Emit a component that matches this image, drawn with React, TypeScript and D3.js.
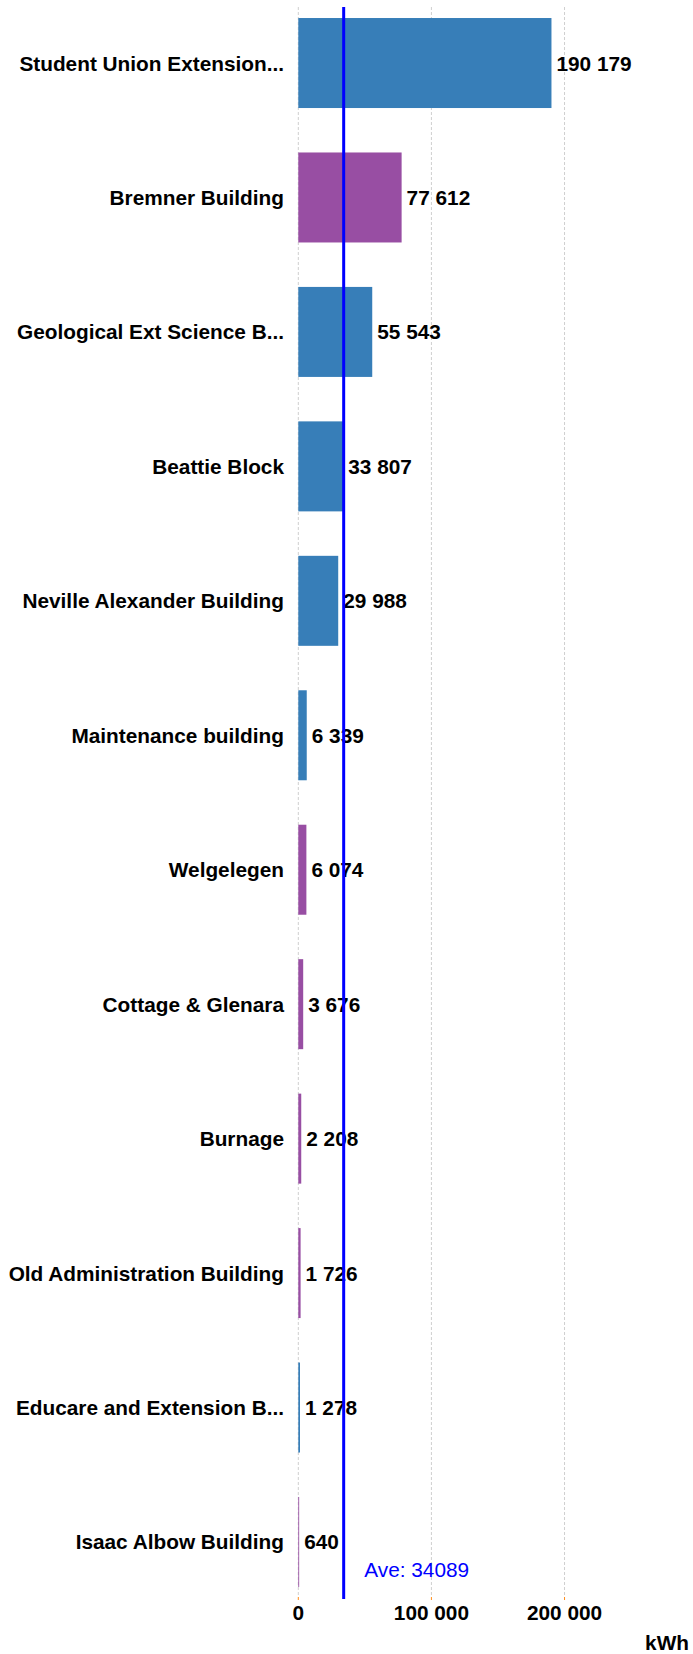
import React from "react";
import * as d3 from "d3";

const buildings = [
  "Student Union Extension...",
  "Bremner Building",
  "Geological Ext Science B...",
  "Beattie Block",
  "Neville Alexander Building",
  "Maintenance building",
  "Welgelegen",
  "Cottage & Glenara",
  "Burnage",
  "Old Administration Building",
  "Educare and Extension B...",
  "Isaac Albow Building",
];
const consumption = [190179, 77612, 55543, 33807, 29988, 6339, 6074, 3676, 2208, 1726, 1278, 640];
const groups = ["A", "B", "A", "A", "A", "A", "B", "B", "B", "B", "A", "B"];
const groupColors: Record<string, string> = { A: "#377eb8", B: "#984ea3" };
const tickValues = [0, 100000, 200000];
const average = 34089;
const unitLabel = "kWh";

const W = 693;
const H = 1654;
const plotTop = 7;
const plotBottom = 1598;
const x0 = 298.3;

const locale = d3.formatLocale({ decimal: ".", thousands: " ", grouping: [3], currency: ["", ""] });
const fmt = locale.format(",d");

export default function App() {
  const x = d3.scaleLinear().domain([0, 250000]).range([x0, x0 + 332.8]);
  const y = d3
    .scaleBand<string>()
    .domain(buildings)
    .range([plotTop, plotBottom])
    .paddingInner(0.3306)
    .paddingOuter(0.082);
  const bw = y.bandwidth();
  const font = "'Liberation Sans', Arial, Helvetica, sans-serif";
  const fs = 20.8;

  return (
    <svg
      width={W}
      height={H}
      style={{ position: "absolute", left: 0, top: 0, background: "#fff" }}
      fontFamily={font}
    >
      {tickValues.map((t) => (
        <g key={"g" + t}>
          <line
            x1={x(t)}
            x2={x(t)}
            y1={plotTop}
            y2={plotBottom - 2}
            stroke="#cfcfcf"
            strokeWidth={1}
            strokeDasharray="3,2"
          />
          <line x1={x(t)} x2={x(t)} y1={plotBottom - 1} y2={plotBottom + 2} stroke="#ff8c1a" strokeWidth={1} />
          <text x={x(t)} y={1620} textAnchor="middle" fontSize={fs} fontWeight="bold" fill="#000">
            {fmt(t)}
          </text>
        </g>
      ))}
      {buildings.map((b, i) => {
        const yy = y(b)!;
        const cy = yy + bw / 2;
        return (
          <g key={b}>
            <rect x={x(0)} y={yy} width={x(consumption[i]) - x(0)} height={bw} fill={groupColors[groups[i]]} />
            <text x={284} y={cy} dy="0.36em" textAnchor="end" fontSize={fs} fontWeight="bold" fill="#000">
              {b}
            </text>
            <text
              x={x(consumption[i]) + 5}
              y={cy}
              dy="0.36em"
              textAnchor="start"
              fontSize={fs}
              fontWeight="bold"
              fill="#000"
            >
              {fmt(consumption[i])}
            </text>
          </g>
        );
      })}
      <line x1={x(average)} x2={x(average)} y1={plotTop} y2={plotBottom + 1} stroke="#0000ff" strokeWidth={3} />
      <text x={x(average) + 20.6} y={1577} fontSize={fs} fill="#0000ff">
        {"Ave: " + average}
      </text>
      <text x={689} y={1650} textAnchor="end" fontSize={fs} fontWeight="bold" fill="#000">
        {unitLabel}
      </text>
    </svg>
  );
}
